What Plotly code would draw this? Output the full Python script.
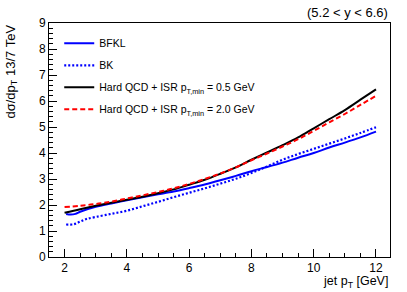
import plotly.graph_objects as go

# --- data ---
x_black = [2, 2.5, 3, 3.5, 4, 4.5, 5, 5.5, 6, 6.5, 7, 7.5, 8, 8.5, 9, 9.5, 10, 10.5, 11, 11.5, 12]
y_black = [1.70, 1.84, 1.97, 2.09, 2.20, 2.32, 2.45, 2.60, 2.78, 2.97, 3.20, 3.45, 3.74, 4.02, 4.30, 4.60, 4.95, 5.30, 5.65, 6.05, 6.45]

x_red = [2, 2.5, 3, 3.5, 4, 4.5, 5, 5.5, 6, 6.5, 7, 7.5, 8, 8.5, 9, 9.5, 10, 10.5, 11, 11.5, 12]
y_red = [1.92, 1.97, 2.04, 2.13, 2.25, 2.37, 2.50, 2.64, 2.81, 3.00, 3.21, 3.45, 3.72, 3.98, 4.25, 4.53, 4.85, 5.18, 5.50, 5.85, 6.20]

x_bfkl = [2.05, 2.2, 2.35, 2.5, 3, 3.5, 4, 4.5, 5, 5.5, 6, 6.5, 7, 7.5, 8, 8.5, 9, 9.5, 10, 10.5, 11, 11.5, 12]
y_bfkl = [1.65, 1.63, 1.66, 1.74, 1.93, 2.06, 2.18, 2.30, 2.41, 2.52, 2.65, 2.79, 2.95, 3.12, 3.30, 3.46, 3.63, 3.82, 4.00, 4.21, 4.40, 4.60, 4.82]

x_bk = [2.05, 2.3, 2.5, 2.7, 3, 3.5, 4, 4.5, 5, 5.5, 6, 6.5, 7, 7.5, 8, 8.5, 9, 9.5, 10, 10.5, 11, 11.5, 12]
y_bk = [1.25, 1.26, 1.36, 1.46, 1.54, 1.66, 1.78, 1.95, 2.12, 2.30, 2.47, 2.64, 2.82, 3.01, 3.23, 3.48, 3.74, 3.96, 4.16, 4.36, 4.56, 4.77, 4.99]

names = ["BFKL", "BK",
         "Hard QCD + ISR p<sub>T,min</sub> = 0.5 GeV",
         "Hard QCD + ISR p<sub>T,min</sub> = 2.0 GeV"]

FONT = "Liberation Sans, Arial, Helvetica, sans-serif"

fig = go.Figure()
fig.add_trace(go.Scatter(x=x_bfkl, y=y_bfkl, mode="lines", name=names[0], legendgroup="a",
                         line=dict(color="#0000ff", width=2, shape="spline")))
fig.add_trace(go.Scatter(x=x_bk, y=y_bk, mode="lines", name=names[1], legendgroup="b",
                         line=dict(color="#0000ff", width=2.2, dash="2px,2px", shape="spline")))
fig.add_trace(go.Scatter(x=x_black, y=y_black, mode="lines", name=names[2], legendgroup="c",
                         line=dict(color="#000000", width=2, shape="spline")))
fig.add_trace(go.Scatter(x=x_red, y=y_red, mode="lines", name=names[3], legendgroup="d",
                         line=dict(color="#ff0000", width=2, dash="5px,3px", shape="spline")))

axis_common = dict(showgrid=False, zeroline=False, showline=True, linecolor="black", linewidth=1,
                   mirror=True, ticks="inside", ticklen=8, tickcolor="black", tickwidth=1,
                   automargin=False,
                   tickfont=dict(family=FONT, size=12, color="black"))

fig.update_layout(
    width=407, height=292,
    margin=dict(l=49, r=17, t=23, b=35, autoexpand=False),
    paper_bgcolor="white", plot_bgcolor="white",
    font=dict(family=FONT, size=11, color="black"),
    showlegend=True,
    legend=dict(x=0.03, y=0.975, xanchor="left", yanchor="top", bgcolor="rgba(0,0,0,0)",
                borderwidth=0, font=dict(family=FONT, size=10.5, color="black"),
                tracegroupgap=3, itemwidth=30),
    xaxis=dict(range=[1.5, 12.45], tickvals=[2, 4, 6, 8, 10, 12],
               minor=dict(ticks="inside", dtick=0.5, tick0=0, ticklen=4, tickcolor="black"),
               **axis_common),
    yaxis=dict(range=[0, 9], tickvals=list(range(10)),
               minor=dict(ticks="inside", dtick=0.2, tick0=0, ticklen=4, tickcolor="black"),
               **axis_common),
    annotations=[
        dict(text="jet p<sub>T</sub> [GeV]", xref="paper", yref="paper", x=1, y=0,
             xanchor="right", yanchor="top", yshift=-15, showarrow=False,
             font=dict(family=FONT, size=12.5, color="black")),
        dict(text="dσ/dp<sub>T</sub> 13/7 TeV", xref="paper", yref="paper", x=0, y=1,
             xanchor="right", yanchor="top", xshift=-28, textangle=-90, showarrow=False,
             font=dict(family=FONT, size=13, color="black")),
        dict(text="(5.2 < y < 6.6)", xref="paper", yref="paper", x=1, y=1,
             xanchor="right", yanchor="bottom", yshift=1, showarrow=False,
             font=dict(family=FONT, size=13, color="black")),
    ],
)

fig.write_html("out.html", config={"displayModeBar": False},
               post_script="document.body.style.margin='0';document.body.style.padding='0';")
